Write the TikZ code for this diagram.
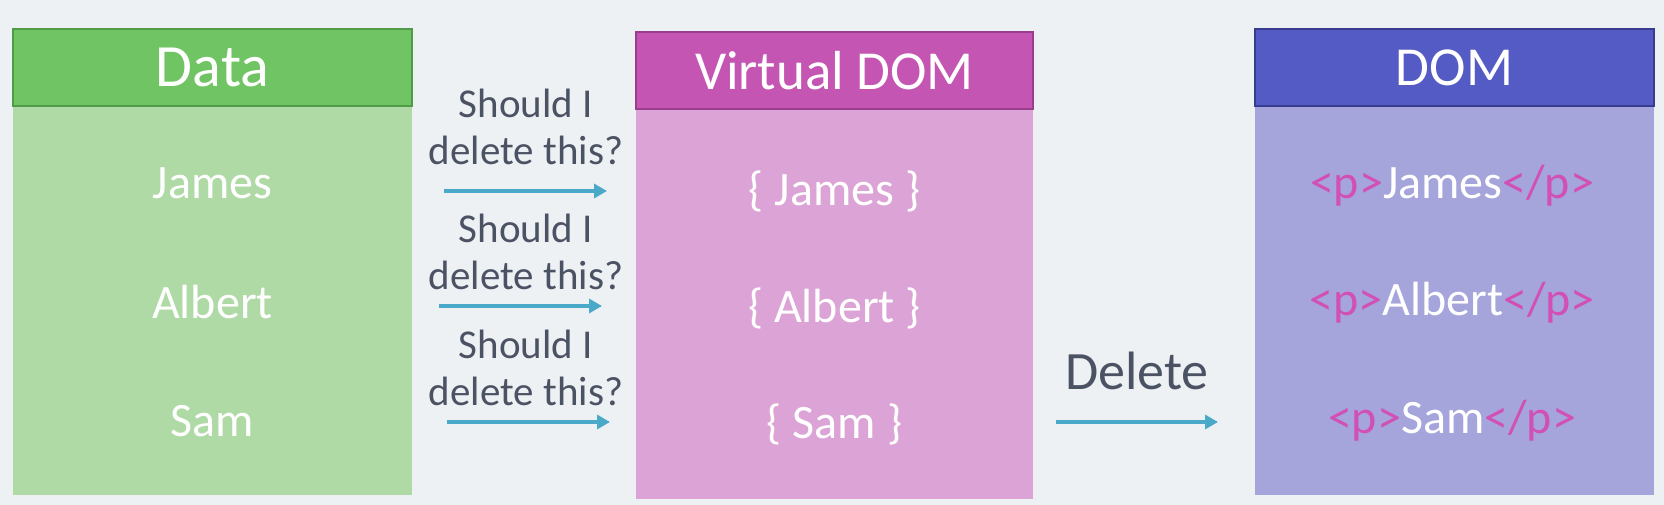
\documentclass[tikz,border=0pt]{standalone}
\usepackage{fontspec}
\setmainfont{Carlito}
\usetikzlibrary{arrows.meta}
\definecolor{bg}{HTML}{EEF1F3}
\definecolor{datahead}{HTML}{70C463}
\definecolor{databorder}{HTML}{4F9B47}
\definecolor{databody}{HTML}{AFDAA5}
\definecolor{vdomhead}{HTML}{C455B2}
\definecolor{vdomborder}{HTML}{9A3D8C}
\definecolor{vdombody}{HTML}{DCA4D6}
\definecolor{domhead}{HTML}{555BC4}
\definecolor{domborder}{HTML}{383C8E}
\definecolor{dombody}{HTML}{A5A5DC}
\definecolor{arrowc}{HTML}{4AA8C8}
\definecolor{darktext}{HTML}{4B5263}
\definecolor{tag}{HTML}{D24FB5}
\newcommand{\tg}[1]{\textcolor{tag}{#1}}
\begin{document}
\begin{tikzpicture}[x=1pt,y=-1pt,
  body/.style={rectangle, inner sep=0pt, minimum width=#1},
  head/.style={rectangle, inner sep=0pt, line width=1.5pt, minimum height=77pt, text=white, font=\fontsize{55}{66}\selectfont},
  item/.style={text=white, inner sep=0pt, font=\fontsize{48}{58}\selectfont},
  question/.style={text=darktext, inner sep=0pt, align=center, font=\fontsize{41}{47}\selectfont},
  arr/.style={draw=arrowc, line width=4pt, -{Triangle[length=13pt,width=14pt]}}
]
\fill[bg] (0,0) rectangle (1664,505);
\useasboundingbox (0,0) rectangle (1664,505);

% Data column
\node[body=399pt, fill=databody, minimum height=389pt] (databody) at (212.5,300.5) {};
\node[head, minimum width=399pt, fill=datahead, draw=databorder, font=\fontsize{60}{72}\selectfont] (datahead) at (212.5,67.5) {Data};
\node[item] (d1) at (212.5,183) {James};
\node[item] (d2) at (212.5,302) {Albert};
\node[item] (d3) at (212.5,421) {Sam};

% Virtual DOM column
\node[body=397pt, fill=vdombody, minimum height=390pt] (vdombody) at (834.5,304) {};
\node[head, minimum width=397pt, fill=vdomhead, draw=vdomborder] (vdomhead) at (834.5,70.5) {Virtual DOM};
\node[item] (v1) at (834.5,191) {\{ James \}};
\node[item] (v2) at (834.5,308) {\{ Albert \}};
\node[item] (v3) at (834.5,424) {\{ Sam \}};

% DOM column
\node[body=399pt, fill=dombody, minimum height=389pt] (dombody) at (1454.5,300.5) {};
\node[head, minimum width=399pt, fill=domhead, draw=domborder] (domhead) at (1454.5,67.5) {DOM};
\node[item] (m1) at (1452,186) {\tg{<p>}James\tg{</p>}};
\node[item] (m2) at (1452,303) {\tg{<p>}Albert\tg{</p>}};
\node[item] (m3) at (1452,421) {\tg{<p>}Sam\tg{</p>}};

% questions
\node[question] (q1) at (526,127) {Should I\\delete this?};
\node[question] (q2) at (526,252) {Should I\\delete this?};
\node[question] (q3) at (526,368) {Should I\\delete this?};

% arrows
\coordinate (a1s) at (444,191);
\coordinate (a1e) at (607,191);
\coordinate (a2s) at (439,306);
\coordinate (a2e) at (602,306);
\coordinate (a3s) at (447,422);
\coordinate (a3e) at (610,422);
\draw[arr] (a1s) -- (a1e);
\draw[arr] (a2s) -- (a2e);
\draw[arr] (a3s) -- (a3e);

\node[text=darktext, inner sep=0pt, font=\fontsize{54}{64}\selectfont] (del) at (1137,371) {Delete};
\coordinate (a4s) at (1056,422);
\coordinate (a4e) at (1218,422);
\draw[arr] (a4s) -- (a4e);
\end{tikzpicture}
\end{document}
